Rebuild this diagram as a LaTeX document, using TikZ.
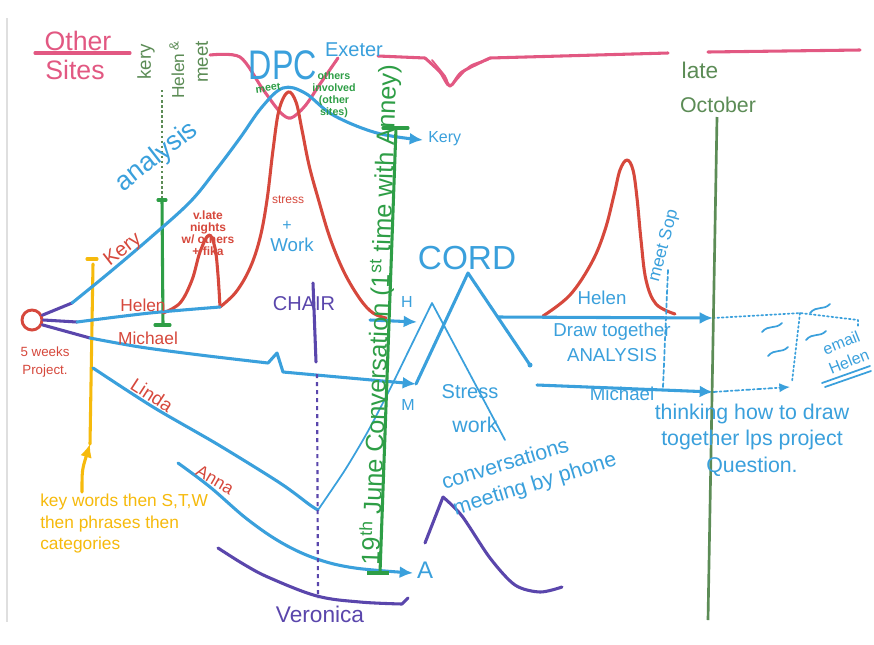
\documentclass[tikz,border=0pt]{standalone}
\usepackage{fontspec}
\setmainfont{Liberation Sans}
\usepackage{tikz}
\usetikzlibrary{arrows.meta}

\definecolor{pinkink}{RGB}{226,88,130}
\definecolor{redink}{RGB}{214,72,60}
\definecolor{blueink}{RGB}{58,160,220}
\definecolor{greenink}{RGB}{46,158,70}
\definecolor{olivegreen}{RGB}{92,140,86}
\definecolor{purpleink}{RGB}{90,70,172}
\definecolor{yellowink}{RGB}{246,186,12}

\newcommand{\handsize}[2]{\fontsize{#1}{#2}\selectfont}

\tikzset{
  pen/.style={line width=2.3pt, line cap=round, line join=round},
  thinpen/.style={line width=1.3pt, line cap=round, line join=round},
  headed/.style={-{Latex[length=10pt,width=9pt]}},
  smallhead/.style={-{Latex[length=8pt,width=7pt]}},
  txt/.style={inner sep=0pt, align=center},
}

\begin{document}
\begin{tikzpicture}[x=0.75pt, y=-0.75pt]
    \fill[white] (0,0) rectangle (874,644);
    \useasboundingbox (0,0) rectangle (874,644);
    \draw[gray!25, line width=1pt] (7,18) -- (7,622);

    % other sites, top line
    \draw[pinkink, pen] (35,53) -- (130,53);
    \node[txt, pinkink, font=\handsize{20}{22}] (other) at (78,41) {Other};
    \node[txt, pinkink, font=\handsize{20}{22}] (sites) at (75,70) {Sites};
    \draw[pinkink, pen] plot[smooth, tension=0.5] coordinates {(210,55) (240,57) (262,88) (280,112) (291,118) (305,106) (320,84) (338,58)};
    \draw[pinkink, pen] (378,56) -- (425,58);
    \draw[pinkink, pen] plot[smooth, tension=0.5] coordinates {(425,58) (440,72) (450,86) (462,72) (490,58)};
    \draw[pinkink, thinpen] plot[smooth, tension=0.5] coordinates {(432,60) (445,76) (451,85) (470,66) (488,60)};
    \draw[pinkink, pen] (490,58) -- (668,53);
    \draw[pinkink, pen] (708,52) -- (860,50);

    % kery & helen meet
    \node[txt, olivegreen, rotate=90, font=\handsize{14}{16}] (kery) at (146,62) {kery};
    \node[txt, olivegreen, rotate=90, font=\handsize{10}{12}] (and) at (174,46) {\&};
    \node[txt, olivegreen, rotate=90, font=\handsize{13}{15}] (helen) at (178,76) {Helen};
    \node[txt, olivegreen, rotate=90, font=\handsize{14}{16}] (meet) at (202,62) {meet};
    \draw[olivegreen, line width=1.8pt, dotted] (162,90) -- (162,198);
    \coordinate (ib) at (162,200);
    \coordinate (ib') at (163,325);
    \draw[greenink, pen] (ib) -- (ib');
    \draw[greenink, pen] (158,200) -- (166,200);
    \draw[greenink, pen] (155,325) -- (170,325);

    % start of project
    \node[circle, draw=redink, line width=2.2pt, minimum size=15pt, inner sep=0pt] (start) at (32,320) {};
    \node[txt, redink, font=\handsize{10}{13}] (weeks) at (45,362) {5 weeks\\Project.};
    \coordinate (ka) at (72,303);
    \coordinate (ha) at (77,322);
    \coordinate (ma) at (90,338);
    \draw[purpleink, pen] (start.25) -- (ka);
    \draw[purpleink, pen] (start.0) -- (ha);
    \draw[purpleink, pen] (start.-25) -- (ma);

    % yellow line and key words
    \coordinate (ya) at (93,264);
    \coordinate (yb) at (90,444);
    \draw[yellowink, pen] (87,259) -- (97,259);
    \draw[yellowink, pen] (ya) -- (yb);
    \node[txt, yellowink, align=left, anchor=north west, font=\handsize{13}{16}] (keywords) at (40,494) {key words then S,T,W\\then phrases then\\categories};
    \draw[yellowink, pen, headed] (keywords.north west) ++(42,-2) .. controls (82,470) .. (yb);

    % red humps
    \draw[redink, pen] plot[smooth, tension=0.6] coordinates {(163,313) (180,303) (192,280) (200,252) (209,235) (215,248) (218,275) (220,307)};
    \draw[redink, pen] plot[smooth, tension=0.6] coordinates {(220,307) (236,292) (250,268) (260,238) (267,200) (273,150) (279,110) (288,92) (296,102) (302,130) (309,165) (318,198) (330,238) (344,272) (360,299) (373,313) (386,318)};

    % kery, helen, michael lines
    \coordinate (kend) at (423,140);
    \draw[blueink, pen, headed] plot[smooth, tension=0.6] coordinates {(ka) (110,272) (150,238) (190,202) (216,170) (240,138) (262,107) (283,88) (305,93) (333,115) (377,133) (kend)};
    \node[txt, blueink, font=\handsize{12}{14}, anchor=west] (kerylbl) at (428,139) {Kery};
    \coordinate (hb) at (220,307);
    \draw[blueink, pen] plot[smooth] coordinates {(ha) (150,313) (hb)};
    \coordinate (hend) at (417,322);
    \draw[blueink, pen, headed] (370,320) -- (hend);
    \node[txt, blueink, font=\handsize{12}{14}] (hlbl) at (407,302) {H};
    \coordinate (mend) at (416,384);
    \draw[blueink, pen, headed] plot[smooth] coordinates {(ma) (140,347) (200,355) (268,363)} -- (277,353) -- (283,372) -- (mend);
    \node[txt, blueink, font=\handsize{12}{14}] (mlbl) at (408,405) {M};

    % linda and anna
    \coordinate (la) at (93,368);
    \coordinate (lv) at (318,510);
    \coordinate (lpk) at (432,303);
    \coordinate (lend) at (505,440);
    \draw[blueink, pen] plot[smooth, tension=0.5] coordinates {(la) (153,407) (217,444) (280,483) (310,505) (lv)};
    \draw[blueink, thinpen] plot[smooth, tension=0.4] coordinates {(lv) (345,470) (367,433) (388,393) (410,348) (lpk)} -- (lend);
    \coordinate (aa) at (178,463);
    \coordinate (aend) at (413,573);
    \draw[blueink, pen, headed] plot[smooth, tension=0.6] coordinates {(aa) (210,487) (247,519) (282,543) (317,559) (355,568) (aend)};
    \node[txt, blueink, font=\handsize{18}{20}] (albl) at (425,570) {A};

    % veronica and chair
    \draw[purpleink, pen] plot[smooth, tension=0.6] coordinates {(218,548) (245,565) (270,578) (317,596) (360,602) (402,604)} -- (408,598);
    \node[txt, purpleink, font=\handsize{17}{19}] (veronica) at (320,614) {Veronica};
    \coordinate (ch) at (313,283);
    \coordinate (ch') at (316,362);
    \draw[purpleink, pen] (ch) -- (ch');
    \draw[purpleink, line width=1.6pt, dashed] (317,374) -- (318,598);
    \node[txt, purpleink, font=\handsize{15}{17}] (chair) at (304,304) {CHAIR};
    \draw[purpleink, pen] plot[smooth, tension=0.5] coordinates {(425,543) (443,497)};
    \draw[purpleink, pen] plot[smooth, tension=0.5] coordinates {(443,497) (462,516) (490,558) (515,585) (540,592) (562,587)};

    % 19th june conversation
    \coordinate (jtop) at (396,128);
    \coordinate (jbot) at (380,573);
    \draw[greenink, pen] (jtop) -- (jbot);
    \draw[greenink, pen] (383,128) -- (408,128);
    \draw[greenink, line width=3.6pt] (367,573) -- (389,573);
    \node[txt, greenink, rotate=88, font=\handsize{19}{21}] (june) at (380,315) {19\textsuperscript{th} June Conversation (1\textsuperscript{st} time with Anney)};

    % cord
    \coordinate (cpk) at (468,273);
    \coordinate (cend) at (530,365);
    \draw[blueink, pen] (mend) -- (cpk) -- (cend);
    \fill[blueink] (cend) circle (2.5);
    \node[txt, blueink, font=\handsize{25}{27}] (cord) at (467,258) {CORD};

    % helen after cord
    \coordinate (hc) at (498,317);
    \coordinate (hr) at (713,318);
    \draw[redink, pen] plot[smooth, tension=0.6] coordinates {(543,316) (570,295) (592,262) (605,230) (614,195) (620,170) (627,160) (633,170) (637,198) (641,240) (646,280) (656,304) (675,314)};
    \draw[blueink, pen, headed] (hc) -- (hr);
    \coordinate (mr0) at (537,385);
    \coordinate (mr) at (713,392);
    \coordinate (mr2) at (790,387);
    \draw[blueink, pen, headed] (mr0) -- (mr);
    \draw[blueink, thinpen, dash dot, smallhead] (mr) -- (mr2);
    \coordinate (dd) at (800,313);
    \draw[blueink, thinpen, dotted] (hr) -- (dd) -- (858,320) -- (858,328);
    \draw[blueink, thinpen, dotted] (dd) -- (792,382);
    \foreach \x/\y in {772/328, 820/309, 816/336, 778/352} {
        \draw[blueink, thinpen] (\x-10,\y+4) .. controls (\x-3,\y-4) and (\x+3,\y+2) .. (\x+10,\y-5);
    }
    \draw[blueink, thinpen] (822,383) -- (870,366);
    \draw[blueink, thinpen] (825,387) -- (871,371);
    \node[txt, blueink, rotate=22, font=\handsize{12}{15}] (email) at (845,352) {email\\Helen};

    % late october
    \coordinate (lo) at (717,117);
    \coordinate (lo') at (708,620);
    \draw[olivegreen, line width=2pt] (lo) -- (lo');
    \node[txt, olivegreen, font=\handsize{17}{19}] (late) at (700,70) {late};
    \node[txt, olivegreen, font=\handsize{16}{18}] (october) at (718,105) {October};

    % meet sop
    \node[txt, blueink, rotate=75, font=\handsize{13}{15}] (sop) at (664,246) {meet Sop};
    \draw[blueink, thinpen, densely dashed] (668,270) -- (663,387);

    % blue words
    \node[txt, blueink, xscale=0.78, font=\handsize{31}{33}] (dpc) at (283,65) {DPC};
    \node[txt, blueink, font=\handsize{15}{17}] (exeter) at (354,50) {Exeter};
    \node[txt, blueink, rotate=38, font=\handsize{20}{22}] (analysis) at (157,157) {analysis};
    \node[txt, blueink, font=\handsize{12}{14}] (plus) at (287,226) {+};
    \node[txt, blueink, font=\handsize{14}{16}] (work) at (292,245) {Work};
    \node[txt, blueink, font=\handsize{14}{16}] (helenr) at (602,298) {Helen};
    \node[txt, blueink, font=\handsize{14}{19}] (draw) at (612,342) {Draw together\\ANALYSIS};
    \node[txt, blueink, font=\handsize{14}{16}] (michaelr) at (622,394) {Michael};
    \node[txt, blueink, font=\handsize{16}{20}] (thinking) at (752,440) {thinking how to draw\\together lps project\\Question.};
    \node[txt, blueink, font=\handsize{15}{17}] (stress) at (470,392) {Stress};
    \node[txt, blueink, font=\handsize{16}{18}] (worklow) at (475,425) {work};
    \node[txt, blueink, rotate=17, font=\handsize{16}{18}] (conv) at (505,463) {conversations};
    \node[txt, blueink, rotate=17, font=\handsize{16}{18}] (phone) at (535,485) {meeting by phone};

    % green small words
    \node[txt, greenink, rotate=8, font=\bfseries\handsize{8}{9}] (meetdpc) at (268,88) {meet};
    \node[txt, greenink, font=\bfseries\handsize{8}{9}] (others) at (334,95) {others\\involved\\(other\\sites)};

    % red words
    \node[txt, redink, font=\bfseries\handsize{9}{9}] (vlate) at (208,233) {v.late\\nights\\w/ others\\+ fika};
    \node[txt, redink, font=\handsize{9}{11}] (stressr) at (288,200) {stress};
    \node[txt, redink, rotate=38, font=\handsize{15}{17}] (kerylab) at (123,250) {Kery};
    \node[txt, redink, font=\handsize{13}{15}] (helenlab) at (143,305) {Helen};
    \node[txt, redink, font=\handsize{13}{15}] (michaellab) at (148,338) {Michael};
    \node[txt, redink, rotate=-33, font=\handsize{14}{16}] (linda) at (152,395) {Linda};
    \node[txt, redink, rotate=-30, font=\handsize{13}{15}] (anna) at (215,480) {Anna};
\end{tikzpicture}
\end{document}
